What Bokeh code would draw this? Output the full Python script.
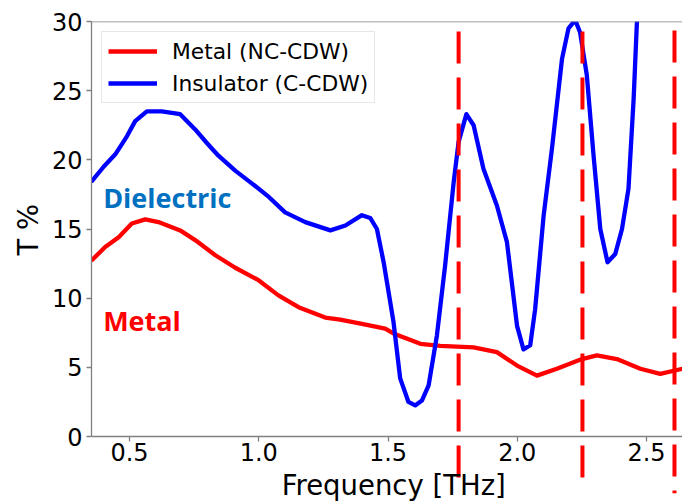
from bokeh.plotting import figure
from bokeh.models import (LinearAxis, FixedTicker, Range1d, Legend, LegendItem, ColumnDataSource,
                          Label, Title, PrintfTickFormatter)
from bokeh.core.properties import value
from bokeh.embed import file_html
from bokeh.resources import INLINE

# ---- data ----
freq_ins = [0.352, 0.40, 0.445, 0.49, 0.522, 0.567, 0.625, 0.696, 0.754, 0.80, 0.844, 0.91,
            0.973, 1.04, 1.102, 1.18, 1.277, 1.335, 1.399, 1.431, 1.457, 1.483, 1.521, 1.547,
            1.579, 1.605, 1.631, 1.657, 1.689, 1.721, 1.754, 1.773, 1.803, 1.831, 1.869, 1.921,
            1.96, 1.999, 2.024, 2.05, 2.069, 2.102, 2.134, 2.173, 2.198, 2.224, 2.243, 2.269,
            2.295, 2.321, 2.349, 2.379, 2.405, 2.43, 2.45, 2.463, 2.49]
t_ins = [18.4, 19.5, 20.4, 21.7, 22.8, 23.5, 23.5, 23.3, 22.2, 21.2, 20.3, 19.2,
         18.3, 17.3, 16.2, 15.5, 14.9, 15.25, 16.0, 15.8, 15.0, 12.6, 8.3, 4.2,
         2.5, 2.25, 2.6, 3.7, 7.3, 12.4, 18.4, 21.3, 23.3, 22.5, 19.35, 16.7,
         14.05, 8.0, 6.3, 6.6, 9.2, 16.0, 20.8, 27.3, 29.5, 30.1, 29.2, 26.1,
         20.3, 15.0, 12.6, 13.2, 15.0, 17.9, 24.4, 30.1, 38.0]

freq_met = [0.352, 0.406, 0.458, 0.509, 0.561, 0.612, 0.696, 0.754, 0.832, 0.909, 0.999,
            1.076, 1.154, 1.257, 1.315, 1.399, 1.489, 1.521, 1.625, 1.702, 1.831, 1.921,
            1.999, 2.076, 2.153, 2.25, 2.308, 2.385, 2.476, 2.553, 2.64]
t_met = [12.7, 13.7, 14.4, 15.4, 15.7, 15.5, 14.9, 14.2, 13.1, 12.2, 11.3,
         10.2, 9.35, 8.6, 8.45, 8.15, 7.8, 7.45, 6.7, 6.55, 6.45, 6.1,
         5.13, 4.4, 4.9, 5.6, 5.86, 5.6, 4.9, 4.53, 4.9]

vlines_x = [1.773, 2.252, 2.608]
vlines_top = [29.28, 29.28, 29.35]
vlines_bottom = [-3.9, -3.9, -4.1]

x_ticks = [0.5, 1.0, 1.5, 2.0, 2.5]
y_ticks = [0, 5, 10, 15, 20, 25, 30]

x_title = "Frequency [THz]"
y_title = "T %"

labels_text = ["Dielectric", "Metal"]
labels_x = [0.398, 0.398]
labels_y = [17.28, 8.39]
labels_color = ["#0070C0", "#FF0000"]

# ---- figure ----
p = figure(width=682, height=502, output_backend="svg", toolbar_location=None,
           x_range=Range1d(0.353, 2.639), y_range=Range1d(-4.77, 30),
           x_axis_location=None, y_axis_location=None,
           min_border_left=91, min_border_top=21, min_border_right=0, min_border_bottom=0)
p.outline_line_color = None
p.xgrid.visible = False
p.ygrid.visible = False
p.background_fill_color = "white"

SPINE = "#808080"

xaxis = LinearAxis(fixed_location=0, ticker=FixedTicker(ticks=x_ticks),
                   formatter=PrintfTickFormatter(format="%.1f"))
yaxis = LinearAxis(bounds=(0, 30), ticker=FixedTicker(ticks=y_ticks))
for ax in (xaxis, yaxis):
    ax.axis_line_color = SPINE
    ax.axis_line_width = 1.3
    ax.major_tick_line_color = SPINE
    ax.major_tick_line_width = 1.3
    ax.major_tick_out = 5
    ax.major_tick_in = 0
    ax.minor_tick_line_color = None
    ax.major_label_text_font = "DejaVu Sans"
    ax.major_label_text_font_size = "24px"
    ax.major_label_text_color = "black"
xaxis.major_label_standoff = 1
yaxis.major_label_standoff = 4
p.add_layout(xaxis, "below")
p.add_layout(yaxis, "left")

top_spine = LinearAxis(fixed_location=30, ticker=FixedTicker(ticks=[]),
                       major_label_text_font_size="0px", axis_line_color=SPINE,
                       axis_line_width=1.3, major_tick_line_color=None, minor_tick_line_color=None)
p.add_layout(top_spine, "above")

# axis titles
p.add_layout(Label(x=1.522, y=-3.52, text=x_title, text_font="DejaVu Sans",
                   text_font_size="27.5px", text_color="black",
                   text_align="center", text_baseline="alphabetic"))
p.add_layout(Title(text=y_title, align="left", offset=247, vertical_align="bottom",
                   text_font="DejaVu Sans", text_font_size="27.5px",
                   text_font_style="normal", text_color="black"), "left")

r_met = p.line(freq_met, t_met, line_color="#FF0000", line_width=4.3, line_join="round")
r_ins = p.line(freq_ins, t_ins, line_color="#0000FF", line_width=4.3, line_join="round")

p.segment(x0=vlines_x, y0=vlines_top, x1=vlines_x, y1=vlines_bottom,
          line_color="#FF0000", line_width=4, line_dash="32 14")

src = ColumnDataSource(dict(x=labels_x, y=labels_y, t=labels_text, c=labels_color))
p.text(x="x", y="y", text="t", text_color="c", source=src,
       text_font=value("Open Sans"), text_font_style="bold", text_font_size="27px",
       text_baseline="alphabetic", text_align="left")

legend = Legend(items=[LegendItem(label="Metal (NC-CDW)", renderers=[r_met]),
                       LegendItem(label="Insulator (C-CDW)", renderers=[r_ins])],
                location="top_left")
legend.margin = 10
legend.padding = 6
legend.spacing = 6
legend.glyph_width = 49
legend.glyph_height = 26
legend.label_height = 26
legend.label_standoff = 15
legend.label_text_font = "DejaVu Sans"
legend.label_text_font_size = "21.8px"
legend.label_text_color = "black"
legend.border_line_color = "#d0d0d0"
legend.border_line_width = 1.2
legend.background_fill_alpha = 0.8
p.add_layout(legend, "center")

open("out.html", "w").write(file_html(p, INLINE))
